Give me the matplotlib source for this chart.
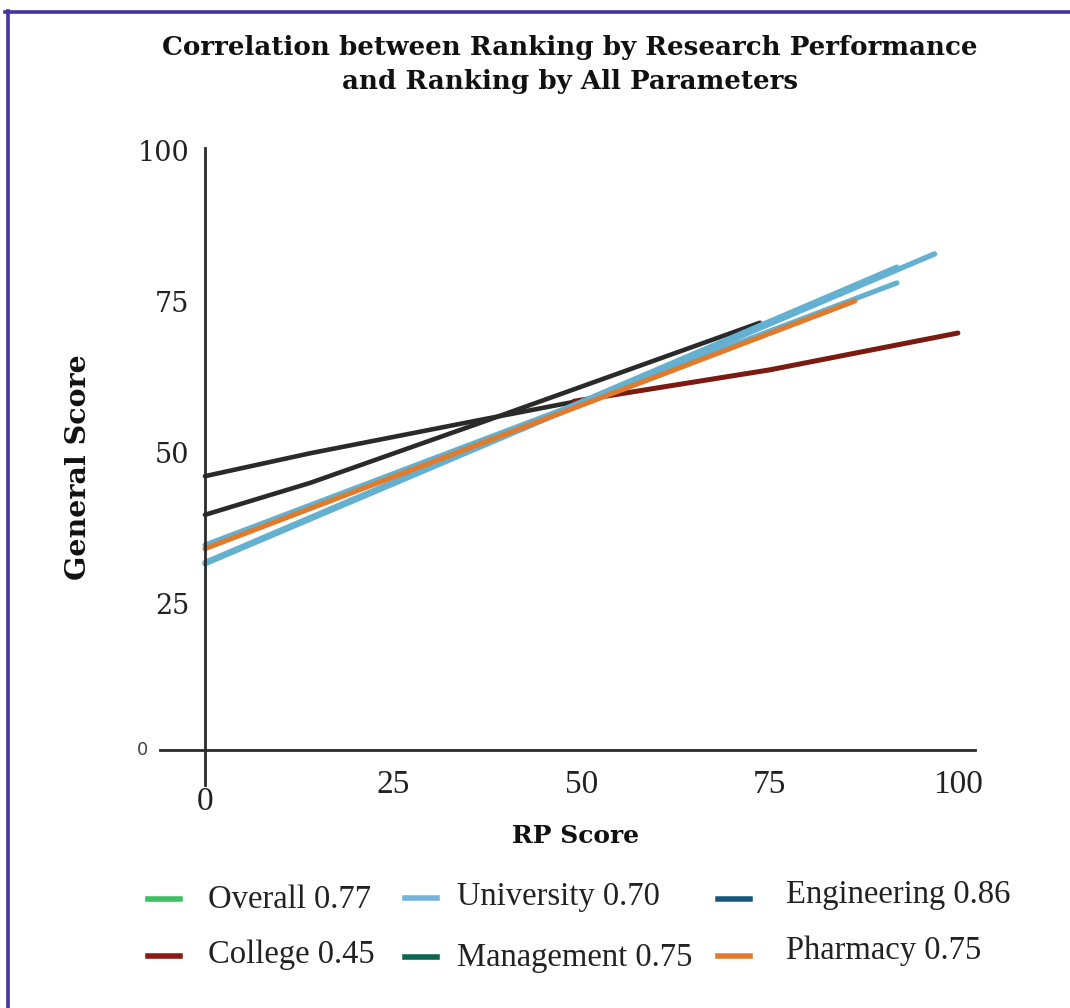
import numpy as np
import matplotlib
matplotlib.use('Agg')
import matplotlib.pyplot as plt
from matplotlib.lines import Line2D

# Data (RP score -> general score)
college_black_x = [0, 14, 36.5, 49]
college_black_y = [46.0, 49.8, 55.3, 58.3]
college_x = [49, 75, 100]
college_y = [58.4, 63.6, 69.7]
overall_x = [0, 14, 36.5, 73.7]
overall_y = [39.6, 44.9, 54.8, 71.4]
univ_a_x = [0, 91.9]
univ_a_y = [34.6, 78.0]
univ_b_x = [0, 96.9]
univ_b_y = [31.5, 82.8]
univ_c_x = [0, 91.9]
univ_c_y = [31.7, 80.6]
pharmacy_x = [0, 86.3]
pharmacy_y = [34.0, 75.0]

xticks = [25, 50, 75, 100]
yticks = [25, 50, 75, 100]

legend_labels = ['Overall 0.77', 'College 0.45', 'University 0.70',
                 'Management 0.75', 'Engineering 0.86', 'Pharmacy 0.75']
legend_colors = ['#3dbf63', '#8a1a12', '#74b3dc', '#0b6650', '#16587f', '#e07b2e']

W, H = 1070, 1008
fig = plt.figure(figsize=(W / 100, H / 100), dpi=100)

def fx(px):
    return px / W

def fy(py):
    return 1 - py / H

# axes placed in pixel terms
ax = fig.add_axes([fx(150), fy(790), (985 - 150) / W, (790 - 140) / H])
ax.set_xlim(-7.3, 103.6)
ax.set_ylim(-5.96, 101.66)

black = '#2a2a2a'
blue = '#63b0d1'
ax.plot(college_black_x, college_black_y, color=black, lw=3.3, solid_capstyle='round')
ax.plot(college_x, college_y, color='#7a1a10', lw=3.6, solid_capstyle='round')
ax.plot(overall_x, overall_y, color=black, lw=3.3, solid_capstyle='round')
ax.plot(univ_b_x, univ_b_y, color=blue, lw=3.9, solid_capstyle='round')
ax.plot(univ_c_x, univ_c_y, color=blue, lw=3.9, solid_capstyle='round')
ax.plot(univ_a_x, univ_a_y, color=blue, lw=3.7, solid_capstyle='round')
ax.plot(pharmacy_x, pharmacy_y, color='#e07a2c', lw=3.7, solid_capstyle='round')

for s in ['top', 'right']:
    ax.spines[s].set_visible(False)
ax.spines['left'].set_position(('data', 0))
ax.spines['bottom'].set_position(('data', 0.7))
ax.spines['left'].set_bounds(-5.1, 100.3)
ax.spines['bottom'].set_bounds(-6.0, 102.3)
for s in ['left', 'bottom']:
    ax.spines[s].set_color(black)
    ax.spines[s].set_linewidth(2)

ax.set_yticks(yticks)
ax.set_yticklabels([str(t) for t in yticks], fontfamily='DejaVu Serif', fontsize=19.5, color='#222222')
ax.set_xticks(xticks)
ax.set_xticklabels([str(t) for t in xticks], fontfamily='Liberation Serif', fontsize=24, color='#222222')
ax.tick_params(axis='y', length=0, pad=11)
ax.tick_params(axis='x', length=0, pad=14)

# the two odd zero labels
ax.text(-7.6, 0.6, '0', fontsize=13, color='#444444', ha='right', va='center',
        fontfamily='DejaVu Sans')
ax.text(0, -7.9, '0', fontsize=24, color='#222222', ha='center', va='center',
        fontfamily='Liberation Serif', clip_on=False)

fig.text(fx(570), fy(64), 'Correlation between Ranking by Research Performance\nand Ranking by All Parameters',
         ha='center', va='center', fontsize=18.8, fontweight='bold', fontfamily='DejaVu Serif',
         linespacing=1.45, color='#111111')
fig.text(fx(78), fy(467), 'General Score', rotation=90, ha='center', va='center',
         fontsize=20.5, fontweight='bold', fontfamily='DejaVu Serif', color='#111111')
fig.text(fx(576), fy(836), 'RP Score', ha='center', va='center',
         fontsize=18, fontweight='bold', fontfamily='DejaVu Serif', color='#111111')

# hand made legend
handle_px = [(148, 899), (148, 956), (405, 898), (405, 957), (718, 899), (718, 956)]
text_px = [(208, 900), (208, 955), (457, 897), (457, 958), (786, 895), (786, 951)]
for (hx, hy), (tx, ty), lab, col in zip(handle_px, text_px, legend_labels, legend_colors):
    fig.add_artist(Line2D([fx(hx), fx(hx + 32)], [fy(hy), fy(hy)], color=col, lw=4))
    fig.text(fx(tx), fy(ty), lab, ha='left', va='center', fontsize=23.5,
             fontfamily='Liberation Serif', color='#222222')

# purple frame on top and left
frame = '#4433a0'
fig.add_artist(Line2D([fx(5), fx(1070)], [fy(12), fy(12)], color=frame, lw=2.6))
fig.add_artist(Line2D([fx(8), fx(8)], [fy(11), fy(1008)], color=frame, lw=2.6))

fig.savefig('out.png', dpi=100)
